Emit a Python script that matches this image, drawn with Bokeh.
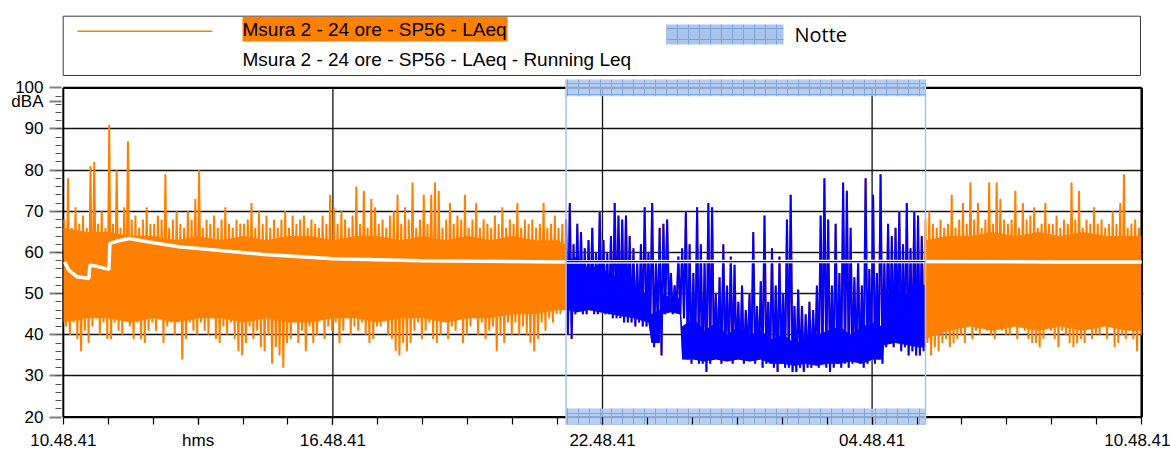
import numpy as np
from bokeh.plotting import figure
from bokeh.models import Range1d, FixedTicker
from bokeh.embed import file_html
from bokeh.resources import INLINE
from bokeh.core.properties import value

# ---------------- data ----------------
start_clock = "10:48:41"
first_bin_clock = "10:50"
bin_minutes = 5
night_clock = ["22:00", "06:00"]

x_tick_hours = [0, 3, 6, 12, 18, 24]
x_tick_labels = ["10.48.41", "hms", "16.48.41", "22.48.41", "04.48.41", "10.48.41"]
x_grid_hours = [6, 12, 18]
y_ticks = [20, 30, 40, 50, 60, 70, 80, 90, 100]
y_grid = [30, 40, 50, 60, 70, 80, 90]
y_unit = "dBA"
y_unit_at = 96.75

# 5-minute maxima / minima of LAeq (dBA), one row per hour from 10:50
peak_dBA = [
    68, 78, 66, 71, 67, 69, 66, 81, 82, 67, 70, 66,
    91, 67, 80, 66, 71, 87, 68, 69, 66, 68, 71, 67,
    67, 69, 68, 79, 66, 68, 70, 67, 66, 70, 68, 73,
    80, 66, 68, 67, 69, 66, 68, 71, 67, 66, 68, 67,
    67, 68, 72, 66, 70, 67, 69, 66, 68, 66, 68, 70,
    66, 69, 67, 68, 69, 66, 68, 67, 66, 69, 67, 74,
    71, 67, 70, 68, 66, 69, 76, 67, 75, 66, 73, 71,
    67, 68, 66, 69, 70, 74, 67, 71, 68, 77, 66, 68,
    74, 67, 74, 77, 75, 66, 68, 72, 67, 69, 68, 74,
    66, 68, 72, 66, 68, 67, 66, 69, 67, 71, 66, 68,
    67, 72, 66, 68, 67, 68, 66, 67, 72, 66, 67, 69,
    66, 67, 68, 72, 62, 67, 65, 61, 63, 66, 60, 70,
    63, 60, 64, 72, 69, 68, 69, 64, 61, 58, 62, 71,
    60, 72, 58, 66, 67, 68, 55, 52, 59, 61, 70, 62,
    55, 71, 62, 58, 72, 71, 50, 54, 62, 52, 59, 57,
    48, 52, 46, 50, 65, 47, 53, 69, 48, 61, 52, 59,
    50, 68, 74, 47, 51, 47, 45, 48, 46, 52, 69, 78,
    68, 52, 67, 55, 77, 75, 66, 54, 58, 52, 78, 56,
    74, 55, 79, 58, 67, 64, 66, 70, 62, 72, 61, 70,
    69, 64, 68, 70, 67, 66, 68, 66, 67, 74, 66, 68,
    72, 67, 77, 68, 72, 66, 68, 77, 67, 77, 73, 68,
    67, 68, 75, 66, 72, 68, 69, 71, 66, 67, 72, 67,
    67, 69, 66, 68, 67, 77, 68, 75, 66, 68, 67, 71,
    67, 68, 66, 67, 70, 67, 72, 79, 66, 67, 68, 66,
]
floor_dBA = [
    42, 40, 43, 39, 36, 41, 38, 42, 44, 40, 43, 39,
    39, 43, 41, 40, 44, 42, 39, 43, 39, 38, 41, 43,
    41, 44, 38, 42, 43, 40, 44, 34, 39, 43, 41, 40,
    43, 41, 40, 44, 39, 38, 42, 40, 43, 39, 36, 35,
    38, 42, 39, 41, 37, 36, 40, 33, 37, 35, 32, 38,
    39, 43, 38, 41, 36, 42, 38, 40, 44, 39, 42, 41,
    43, 38, 41, 44, 40, 42, 41, 43, 40, 38, 39, 42,
    42, 44, 40, 39, 36, 35, 38, 36, 38, 41, 43, 39,
    41, 43, 39, 38, 40, 44, 39, 42, 41, 44, 38, 40,
    42, 44, 40, 43, 39, 41, 42, 36, 40, 38, 43, 40,
    43, 40, 42, 40, 38, 36, 39, 43, 41, 44, 43, 45,
    45, 46, 40, 39, 45, 46, 45, 45, 46, 45, 45, 46,
    45, 45, 44, 44, 44, 43, 43, 43, 42, 43, 42, 42,
    43, 37, 42, 35, 45, 46, 45, 46, 45, 44, 34, 33,
    34, 33, 33, 31, 33, 34, 35, 33, 34, 35, 33, 34,
    34, 33, 35, 34, 33, 34, 32, 33, 33, 32, 31, 33,
    32, 32, 31, 31, 32, 31, 32, 32, 33, 32, 33, 32,
    31, 32, 33, 32, 33, 32, 33, 34, 33, 32, 33, 34,
    33, 34, 33, 37, 38, 37, 39, 36, 37, 35, 36, 35,
    35, 36, 38, 35, 37, 36, 38, 39, 37, 38, 39, 40,
    38, 42, 39, 41, 40, 43, 41, 40, 39, 42, 41, 40,
    40, 43, 39, 42, 41, 39, 38, 38, 37, 39, 42, 41,
    39, 37, 41, 40, 38, 37, 38, 39, 38, 42, 39, 40,
    40, 43, 39, 42, 37, 38, 40, 39, 43, 39, 36, 40,
]

# dense (solid) part of the trace
core_clock = ["10:49", "11:19", "11:49", "12:19", "12:49", "13:19", "13:49", "14:19",
              "14:49", "15:19", "15:49", "16:19", "16:49", "17:19", "17:49", "18:19",
              "18:49", "19:19", "19:49", "20:19", "20:49", "21:19", "21:49", "21:59",
              "22:00", "22:15", "22:30", "22:45", "23:00", "23:15", "23:30", "23:50",
              "23:54", "00:05", "00:08", "00:20", "00:32", "00:35", "00:50", "01:05",
              "01:20", "01:35", "01:50", "02:05", "02:20", "02:35", "02:50", "03:05",
              "03:20", "03:35", "03:50", "04:05", "04:20", "04:35", "04:50", "05:02",
              "05:05", "05:20", "05:35", "05:50", "05:59",
              "06:00", "06:30", "07:00", "07:30", "08:00", "08:30", "09:00", "09:30",
              "10:00", "10:30", "10:48"]
core_lo = [43, 44, 44, 43, 44, 43, 44, 44, 43, 44, 43, 43,
           44, 44, 43, 44, 44, 43, 44, 44, 45, 45, 46, 46,
           46, 45.5, 46, 45.5, 45, 44.5, 44, 43, 38, 38, 45, 45.5, 45, 34, 34, 33.5,
           34, 33.5, 34, 33.5, 34, 33, 33, 32.5, 33, 32.5, 33, 33, 33.5, 33, 34, 34,
           37.5, 38, 37.5, 37, 37,
           39, 41, 42, 41, 42, 41, 42, 41, 42, 41, 41]
core_hi = [66, 65, 65, 64, 64, 63, 64, 63, 64, 63, 64, 64,
           63, 64, 64, 63, 64, 63, 64, 63, 64, 63, 63, 62,
           58, 59, 56, 57, 54, 55, 51, 50, 45, 46, 50, 49, 49, 42, 44, 41,
           43, 40, 42, 40, 41, 39, 40, 38, 39, 40, 41, 42, 40, 42, 43, 42,
           49, 51, 50, 53, 52,
           63, 64, 64, 65, 64, 65, 64, 65, 64, 64, 64]

# running Leq (hours from start, dBA)
leq_hours = [0.03, 0.125, 0.31, 0.57, 0.59, 0.68, 1.015, 1.037, 1.215, 1.46, 1.87, 2.57,
             4.39, 5.99, 7.99, 11.1, 14.0, 18.0, 22.0, 24.0]
leq_dBA = [57.7, 55.7, 54.1, 53.7, 56.9, 56.8, 55.9, 62.2, 62.8, 63.4, 62.6, 61.4,
           59.6, 58.5, 58.0, 57.7, 57.8, 57.8, 57.7, 57.7]
night_leq_dBA = [57.8, 57.8]

legend_labels = ["Msura 2 - 24 ore - SP56 - LAeq",
                 "Msura 2 - 24 ore - SP56 - LAeq - Running Leq",
                 "Notte"]

# ---------------- helpers ----------------
def clock_s(c):
    parts = [int(v) for v in c.split(":")]
    parts += [0] * (3 - len(parts))
    return parts[0] * 3600 + parts[1] * 60 + parts[2]

S0 = clock_s(start_clock)

def to_h(c):
    h = (clock_s(c) - S0) / 3600.0
    return h + 24 if h < 0 else h

ORANGE = "#ff8000"
BLUE = "#0000ff"
BAND_FILL = "#a9c5ee"
BAND_HATCH = "#7ba4dc"
FONT = "Liberation Sans"

# canvas / frame geometry
W, FW, FH = 1170, 1082, 424
LEFT = 61
X0, X1 = -0.04, 24.04
Y1 = 121.21
Y0 = Y1 - FH / 4.1167

def px_x(px):  # canvas pixel -> hours (legend placement only)
    return X0 + (px - LEFT) * (X1 - X0) / FW

def px_y(py):  # canvas pixel -> dBA (legend placement only)
    return Y1 - py * (Y1 - Y0) / FH

ns, ne = [to_h(c) for c in night_clock]
peak = np.array(peak_dBA, float)
flo = np.array(floor_dBA, float)
t_bin = to_h(first_bin_clock) + np.arange(len(peak)) * bin_minutes / 60.0
zig_x = np.column_stack([t_bin, t_bin + bin_minutes / 120.0]).ravel()
zig_y = np.column_stack([peak, flo]).ravel()
night_bin = (t_bin >= ns - 1e-9) & (t_bin < ne - 1e-9)
night_zig = np.repeat(night_bin, 2)

core_h = np.array([to_h(c) for c in core_clock])
core_lo_a = np.array(core_lo, float)
core_hi_a = np.array(core_hi, float)
night_core = (core_h >= ns - 1e-9) & (core_h < ne - 1e-9)

# ---------------- figure ----------------
p = figure(frame_width=FW, frame_height=FH,
           x_range=Range1d(X0, X1), y_range=Range1d(Y0, Y1),
           min_border_left=LEFT, min_border_right=W - LEFT - FW, min_border_top=0,
           min_border_bottom=0, toolbar_location=None, output_backend="svg",
           outline_line_color=None, title=None)

p.xgrid.visible = False
p.ygrid.ticker = FixedTicker(ticks=y_grid)
p.ygrid.grid_line_color = "#111111"
p.ygrid.grid_line_width = 1.5

ymin, ymax = y_ticks[0], y_ticks[-1]
xmin, xmax = x_tick_hours[0], x_tick_hours[-1]

# vertical grid lines
p.segment(x0=x_grid_hours, y0=[ymin] * 3, x1=x_grid_hours, y1=[ymax] * 3,
          line_color="#111111", line_width=1.3)
# frame
p.segment(x0=[xmin, xmin], y0=[ymax, ymin], x1=[xmax, xmax], y1=[ymax, ymin],
          line_color="black", line_width=2.2)
p.segment(x0=[xmin, xmax], y0=[ymin, ymin], x1=[xmin, xmax], y1=[ymax, ymax],
          line_color="black", line_width=[2, 2.5])

# LAeq trace (orange, full day)
p.varea(x=core_h, y1=core_lo_a, y2=core_hi_a, fill_color=ORANGE)
p.line(x=zig_x, y=zig_y, line_color=ORANGE, line_width=2.0)
# night part (blue)
p.varea(x=core_h[night_core], y1=core_lo_a[night_core], y2=core_hi_a[night_core],
        fill_color=BLUE)
p.line(x=zig_x[night_zig], y=zig_y[night_zig], line_color=BLUE, line_width=2.0)

# running Leq
p.line(x=leq_hours, y=leq_dBA, line_color="white", line_width=3.5)
p.line(x=[ns, ne], y=night_leq_dBA, line_color=BLUE, line_width=1.2)

# night bands
p.segment(x0=[ns, ne], y0=[ymin - 2.25] * 2, x1=[ns, ne], y1=[ymax + 2.05] * 2,
          line_color="#a6c4ea", line_width=1.5)
p.quad(left=[ns, ns], right=[ne, ne], bottom=[ymax - 2.07, ymin - 2.25],
       top=[ymax + 2.05, ymin + 2.1], fill_color=BAND_FILL, fill_alpha=0.85,
       line_color=None, hatch_pattern="+", hatch_color=BAND_HATCH, hatch_scale=11,
       hatch_weight=1, hatch_alpha=0.9)

# ---------------- legend (inside the top of the frame) ----------------
p.quad(left=[px_x(62.7)], right=[px_x(1140)], top=[px_y(15.7)], bottom=[px_y(75)],
       fill_color=None, line_color="#3a3a3a", line_width=1)
p.line(x=[px_x(77), px_x(212)], y=[px_y(30.7)] * 2, line_color=ORANGE, line_width=1.5)
p.quad(left=[px_x(242)], right=[px_x(507)], top=[px_y(16.3)], bottom=[px_y(41)],
       fill_color=ORANGE, line_color=None)
p.text(x=[px_x(242)], y=[px_y(28.5)], text=[legend_labels[0]], text_font=value(FONT),
       text_font_size="19px", text_baseline="middle", text_color="black")
p.text(x=[px_x(242)], y=[px_y(59.3)], text=[legend_labels[1]], text_font=value(FONT),
       text_font_size="19px", text_baseline="middle", text_color="black")
p.quad(left=[px_x(666)], right=[px_x(783)], top=[px_y(24)], bottom=[px_y(44)],
       fill_color=BAND_FILL, line_color=None, hatch_pattern="+", hatch_color=BAND_HATCH,
       hatch_scale=11, hatch_weight=1)
p.text(x=[px_x(794)], y=[px_y(34)], text=[legend_labels[2]], text_font=value("Open Sans"),
       text_font_size="20px", text_baseline="middle", text_color="black")

# ---------------- axes ----------------
xa = p.xaxis[0]
xa.ticker = FixedTicker(ticks=x_tick_hours, minor_ticks=list(range(1, 24)))
xa.major_label_overrides = {k: v for k, v in zip(x_tick_hours, x_tick_labels)}
xa.axis_line_color = None
xa.major_tick_in = 7
xa.major_tick_out = 0
xa.minor_tick_in = 7
xa.minor_tick_out = 0
xa.major_tick_line_color = "black"
xa.minor_tick_line_color = "black"
xa.major_tick_line_width = 1.2
xa.minor_tick_line_width = 1.2
xa.major_label_standoff = 6
xa.major_label_text_font = FONT
xa.major_label_text_font_size = "17px"
xa.major_label_text_color = "black"

ya = p.yaxis[0]
ya.ticker = FixedTicker(ticks=y_ticks + [y_unit_at], minor_ticks=list(range(22, 100, 2)))
overrides = {t: str(t) for t in y_ticks}
overrides[y_unit_at] = y_unit
ya.major_label_overrides = overrides
ya.axis_line_color = None
ya.major_tick_in = 0
ya.major_tick_out = 12
ya.minor_tick_in = 0
ya.minor_tick_out = 6
ya.major_tick_line_color = "#808080"
ya.minor_tick_line_color = "#555555"
ya.major_tick_line_width = 2
ya.minor_tick_line_width = 1.2
ya.major_label_standoff = 6
ya.major_label_text_font = FONT
ya.major_label_text_font_size = "17px"
ya.major_label_text_color = "black"

open("out.html", "w").write(file_html(p, INLINE))
